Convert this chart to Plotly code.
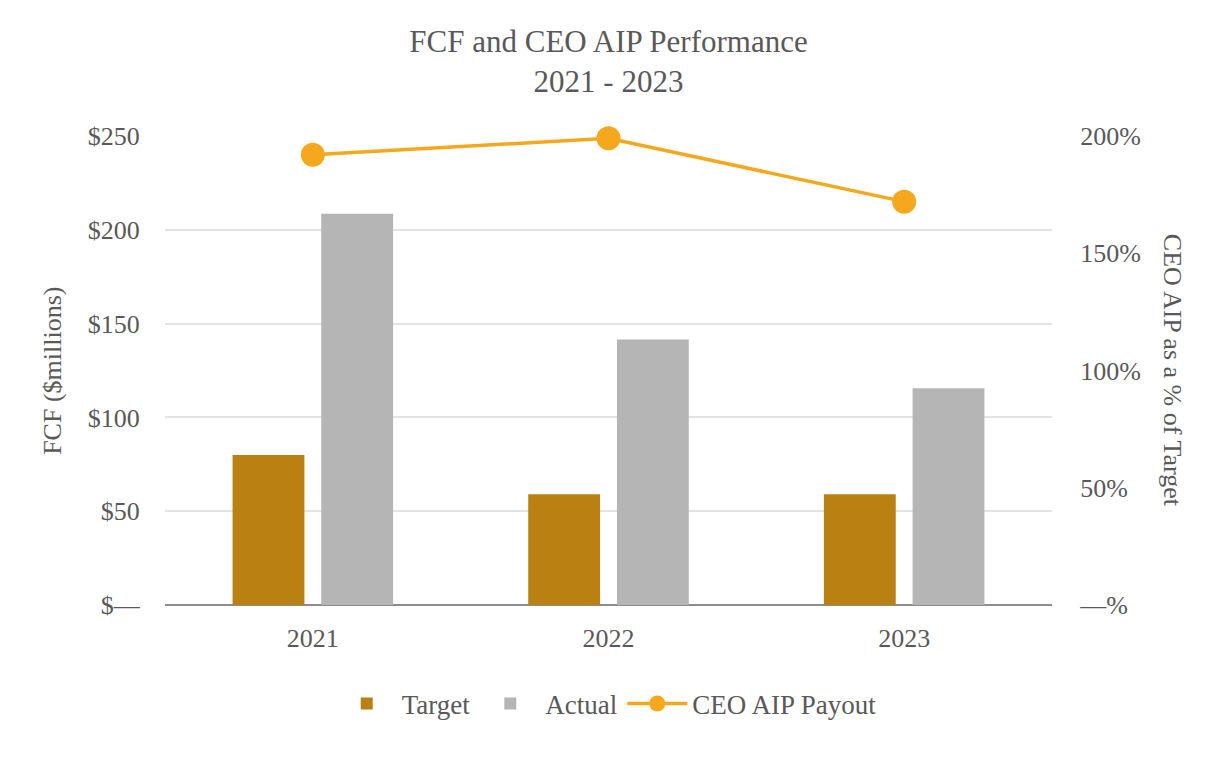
import plotly.graph_objects as go

years = ["2021", "2022", "2023"]
target = [80, 59, 59]
actual = [208.5, 141.5, 115.5]
payout = [192, 199, 172]

left_ticks = [0, 50, 100, 150, 200, 250]
left_text = ["$—", "$50", "$100", "$150", "$200", "$250"]
right_ticks = [0, 50, 100, 150, 200]
right_text = ["—%", "50%", "100%", "150%", "200%"]

font_family = "Liberation Serif"
grey = "#595959"
fs = 26

fig = go.Figure()
fig.add_trace(go.Bar(x=years, y=target, name="Target", marker_color="#BA8012", marker_line_width=0))
fig.add_trace(go.Bar(x=years, y=actual, name="Actual", marker_color="#B5B5B5", marker_line_width=0))
fig.add_trace(go.Scatter(x=years, y=payout, name="CEO AIP Payout", yaxis="y2", mode="lines+markers",
                         line=dict(color="#F5A81C", width=3.5),
                         marker=dict(color="#F5A81C", size=24), cliponaxis=False))

fig.update_layout(
    width=1226, height=760,
    paper_bgcolor="white", plot_bgcolor="white",
    margin=dict(l=157, r=182, t=128, b=163),
    font=dict(family=font_family, color=grey, size=fs),
    title=dict(text="FCF and CEO AIP Performance<br>2021 - 2023", x=0.5, xanchor="center",
               xref="paper", y=1 - 44 / 760, yanchor="middle", yref="container",
               font=dict(size=31, color=grey, family=font_family)),
    barmode="group", bargap=0.40, bargroupgap=0.19,
    showlegend=True,
    legend=dict(orientation="h", x=0.498, xanchor="center", y=-0.211, yanchor="middle",
                font=dict(size=27, color=grey), itemwidth=60, traceorder="normal",
                itemsizing="trace"),
    xaxis=dict(showgrid=False, showline=False, ticks="outside", ticklen=10, tickcolor="rgba(0,0,0,0)",
               tickfont=dict(size=fs, color=grey)),
    yaxis=dict(range=[0, 250], tickvals=left_ticks, ticktext=left_text, showgrid=True,
               gridcolor="#E3E3E3", gridwidth=1.5, zeroline=True, zerolinecolor="#8C8C8C",
               zerolinewidth=2, ticks="outside", ticklen=19, tickcolor="rgba(0,0,0,0)",
               tickfont=dict(size=fs, color=grey)),
    yaxis2=dict(range=[0, 200], tickvals=right_ticks, ticktext=right_text, overlaying="y",
                side="right", showgrid=False, zeroline=False, ticks="outside", ticklen=22,
                tickcolor="rgba(0,0,0,0)", tickfont=dict(size=fs, color=grey)),
    annotations=[
        dict(text="FCF ($millions)", x=-0.127, y=0.5, xref="paper", yref="paper",
             textangle=-90, showarrow=False, font=dict(size=fs, color=grey),
             xanchor="center", yanchor="middle"),
        dict(text="CEO AIP as a % of Target", x=1.136, y=0.5, xref="paper", yref="paper",
             textangle=90, showarrow=False, font=dict(size=fs, color=grey),
             xanchor="center", yanchor="middle"),
    ],
)

fig.write_html("out.html")
